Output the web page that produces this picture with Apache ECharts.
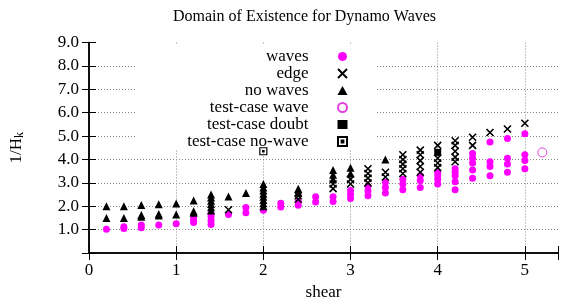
<!DOCTYPE html>
<html>
<head>
<meta charset="utf-8">
<script src="https://cdn.jsdelivr.net/npm/echarts@6/dist/echarts.min.js"></script>
<style>
  html, body { margin: 0; padding: 0; background: #fff; }
  #chart { width: 561px; height: 306px; }
</style>
</head>
<body>
<div id="chart"></div>
<script>
// each entry: [shear, [1/H_k values at that shear]]
var waves = [
  [0.2, [1.02]], [0.4, [1.05, 1.12]], [0.6, [1.08, 1.2]], [0.8, [1.2]],
  [1.0, [1.25]], [1.2, [1.3, 1.4, 1.52]], [1.4, [1.22, 1.38, 1.55, 1.68]],
  [1.6, [1.65]], [1.8, [1.72, 1.95]], [2.0, [1.83]], [2.2, [1.97, 2.13]],
  [2.4, [2.04, 2.2]], [2.6, [2.18, 2.4]], [2.8, [2.2, 2.4]],
  [3.0, [2.33, 2.5, 2.67]], [3.2, [2.45, 2.65, 2.85]], [3.4, [2.57, 2.8, 3.02]],
  [3.6, [2.7, 2.95, 3.15]], [3.8, [2.8, 3.1, 3.3]], [4.0, [2.95, 3.15, 3.3, 3.45]],
  [4.2, [2.7, 3.05, 3.3, 3.45, 3.6]], [4.4, [3.2, 3.55, 3.85, 4.05, 4.25]],
  [4.6, [3.3, 3.7, 3.9, 4.75]], [4.8, [3.45, 3.8, 4.05, 4.9]],
  [5.0, [3.6, 3.95, 4.2, 5.1]]
];
var edge = [
  [1.6, [1.85]], [2.4, [2.3, 2.45]], [2.8, [2.75, 2.95]], [3.0, [2.95, 3.15]],
  [3.2, [3.0, 3.2, 3.4, 3.6]], [3.4, [3.25, 3.45]], [3.6, [3.4, 3.6, 3.8, 4.0, 4.2]],
  [3.8, [3.45, 3.7, 3.95, 4.2, 4.4]], [4.0, [3.65, 3.85, 4.05, 4.6]],
  [4.2, [3.9, 4.1, 4.35, 4.6, 4.8]], [4.4, [4.6, 4.95]], [4.6, [5.15]],
  [4.8, [5.3]], [5.0, [5.55]]
];
var noWaves = [
  [0.2, [1.5, 2.0]], [0.4, [1.5, 2.0]], [0.6, [1.55, 1.62, 2.05]],
  [0.8, [1.6, 1.67, 2.08]], [1.0, [1.65, 2.12]], [1.2, [1.72, 1.78, 2.25]],
  [1.4, [1.82, 1.96, 2.1, 2.23, 2.37, 2.5]], [1.6, [2.42]], [1.8, [2.57]],
  [2.0, [2.0, 2.13, 2.27, 2.4, 2.53, 2.67, 2.8, 2.95]], [2.4, [2.6, 2.75]],
  [2.8, [3.15, 3.35, 3.55]], [3.0, [3.4, 3.65]], [3.4, [4.0]]
];
var testWave = [[5.2, [4.3]]];
var testDoubt = [[4.0, [4.3]]];
var testNoWave = [[2.0, [4.35]]];

var xTicks = [0, 1, 2, 3, 4, 5];

function points(cols) {
  var out = [];
  cols.forEach(function (c) {
    c[1].forEach(function (v) { out.push([c[0], v]); });
  });
  return out;
}

var serif = 'Liberation Serif';
var chart = echarts.init(document.getElementById('chart'));

var option = {
  animation: false,
  title: {
    text: 'Domain of Existence for Dynamo Waves',
    left: 168,
    top: 4,
    textStyle: { fontFamily: serif, fontSize: 16, fontWeight: 'normal', color: '#000' }
  },
  legend: {
    orient: 'vertical',
    align: 'right',
    right: 185,
    top: 44,
    z: 1,
    padding: [4, 28, 0, 52],
    backgroundColor: '#fff',
    itemWidth: 10,
    itemHeight: 9,
    itemGap: 0,
    textStyle: {
      fontFamily: serif, fontSize: 17, color: '#000',
      lineHeight: 17, padding: [0, 24, 0, 0]
    },
    data: ['waves', 'edge', 'no waves', 'test-case wave', 'test-case doubt', 'test-case no-wave']
  },
  grid: { left: 87, right: 1, top: 42.5, bottom: 46 },
  xAxis: [{
    type: 'value', min: 0, max: 5.38, interval: 1,
    name: 'shear', nameLocation: 'middle', nameGap: 31,
    nameTextStyle: { fontFamily: serif, fontSize: 17, color: '#000' },
    axisLine: { show: true, lineStyle: { color: '#000', width: 1.5 } },
    axisTick: { inside: true, length: 7, lineStyle: { color: '#000' } },
    axisLabel: {
      margin: 9, fontFamily: serif, fontSize: 17, color: '#000',
      formatter: function (v) { return xTicks.indexOf(v) >= 0 ? String(v) : ''; }
    },
    splitLine: { show: true, showMinLine: false, showMaxLine: false,
      lineStyle: { color: '#888', type: [1, 2], width: 1 } }
  }, {
    type: 'value', min: 0, max: 5.38, interval: 1, position: 'top', z: 6,
    axisLine: { show: true, lineStyle: { color: '#000', width: 1.5 } },
    axisTick: { inside: true, length: 7, lineStyle: { color: '#000' } },
    axisLabel: { show: false }, splitLine: { show: false }
  }],
  yAxis: [{
    type: 'value', min: 0, max: 9, interval: 1,
    name: '{a|1/H}{b|k}', nameLocation: 'middle', nameGap: 63, nameRotate: 90,
    nameTextStyle: {
      rich: {
        a: { fontFamily: serif, fontSize: 17, color: '#000' },
        b: { fontFamily: serif, fontSize: 12, color: '#000', padding: [7, 0, 0, 0] }
      }
    },
    axisLine: { show: true, lineStyle: { color: '#000', width: 1.5 } },
    axisTick: { inside: true, length: 7, lineStyle: { color: '#000' } },
    axisLabel: {
      margin: 10, fontFamily: serif, fontSize: 17, color: '#000',
      formatter: function (v) { return v === 0 ? '' : v.toFixed(1); }
    },
    splitLine: { show: true, showMinLine: false, showMaxLine: false,
      lineStyle: { color: '#888', type: [1, 2], width: 1 } }
  }, {
    type: 'value', min: 0, max: 9, interval: 1, position: 'right',
    axisLine: { show: true, lineStyle: { color: '#000', width: 1.5 } },
    axisTick: { inside: true, length: 7, lineStyle: { color: '#000' } },
    axisLabel: { show: false }, splitLine: { show: false }
  }],
  series: [
    {
      name: 'waves', type: 'scatter', symbol: 'circle', symbolSize: 7,
      itemStyle: { color: '#ff00ff', opacity: 1 },
      data: points(waves)
    },
    {
      name: 'edge', type: 'scatter', symbol: 'path://M0,0L10,10M10,0L0,10', symbolSize: 7,
      itemStyle: { color: 'transparent', borderColor: '#000', borderWidth: 1.6, opacity: 1 },
      data: points(edge)
    },
    {
      name: 'no waves', type: 'scatter', symbol: 'triangle', symbolSize: 8,
      itemStyle: { color: '#000', opacity: 1 },
      data: points(noWaves)
    },
    {
      name: 'test-case wave', type: 'scatter', symbol: 'circle', symbolSize: 9,
      itemStyle: { color: '#fff', borderColor: '#e040e0', borderWidth: 1, opacity: 1 },
      data: points(testWave)
    },
    {
      name: 'test-case doubt', type: 'scatter', symbol: 'rect', symbolSize: 7,
      itemStyle: { color: '#000', opacity: 1 },
      data: points(testDoubt)
    },
    {
      name: 'test-case no-wave', type: 'scatter', symbol: 'path://M0,0H10V10H0ZM4,4H6V6H4Z', symbolSize: 7,
      itemStyle: { color: 'transparent', borderColor: '#000', borderWidth: 1.2, opacity: 1 },
      data: points(testNoWave)
    }
  ]
};
chart.setOption(option);
</script>
</body>
</html>
